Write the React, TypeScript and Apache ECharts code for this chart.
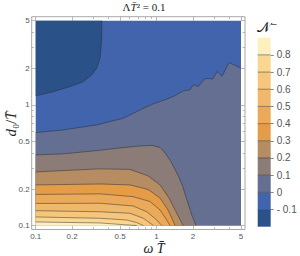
import React, { useEffect, useRef } from "react";
import * as echarts from "echarts";

// ---- axis ranges and ticks ----
const X_MIN = 0.1;
const X_MAX = 5;
const Y_MIN = 0.1;
const Y_MAX = 5;

const MAJOR_TICKS = [0.1, 0.2, 0.5, 1, 2, 5];
const MAJOR_TICK_LABELS = ["0.1", "0.2", "0.5", "1", "2", "5"];
const MINOR_TICKS = [0.3, 0.4, 0.6, 0.7, 0.8, 0.9, 3, 4];

// ---- contour levels / colour bar ----
const LEVELS = [-0.1, 0, 0.1, 0.2, 0.3, 0.4, 0.5, 0.6, 0.7, 0.8];
const LEVEL_LABELS = ["- 0.1", "0", "0.1", "0.2", "0.3", "0.4", "0.5", "0.6", "0.7", "0.8"];
const BAND_EDGES = [-0.2, -0.1, 0, 0.1, 0.2, 0.3, 0.4, 0.5, 0.6, 0.7, 0.8, 0.9];
const BAND_COLORS = [
  "#2b5189", "#4264ad", "#646f91", "#8c7c78", "#b68c62", "#e49c47",
  "#eba95a", "#f0b86b", "#f5c67c", "#f9d791", "#fdf0be",
];

// ---- contour lines, [omega*T, d0/T] ----
const C_M01 = [[0.352, 5], [0.352, 3.8], [0.347, 2.96], [0.341, 2.45], [0.32, 2.02], [0.291, 1.78], [0.248, 1.56], [0.192, 1.42], [0.14, 1.29], [0.1, 1.19]];
const C_000 = [[0.1, 0.59], [0.169, 0.621], [0.32, 0.683], [0.531, 0.777], [0.803, 0.951], [0.941, 1.021], [1.215, 1.117], [1.377, 1.174], [1.667, 1.309], [1.894, 1.335], [2.017, 1.469], [2.218, 1.422], [2.52, 1.657], [2.936, 1.648], [3.17, 1.894], [3.485, 1.728], [3.98, 2.25], [5, 2.02]];
const C_010 = [[0.1, 0.385], [0.169, 0.393], [0.32, 0.418], [0.499, 0.44], [0.73, 0.457], [0.918, 0.462], [1.069, 0.444], [1.176, 0.4], [1.306, 0.343], [1.423, 0.292], [1.536, 0.25], [1.641, 0.213], [1.806, 0.157], [1.968, 0.12], [2.123, 0.1]];
const C_020 = [[0.1, 0.278], [0.175, 0.286], [0.341, 0.295], [0.603, 0.292], [0.85, 0.258], [1.069, 0.217], [1.269, 0.169], [1.45, 0.13], [1.658, 0.1]];
const C_030 = [[0.1, 0.217], [0.341, 0.221], [0.603, 0.217], [0.85, 0.199], [1.069, 0.169], [1.245, 0.1345], [1.423, 0.1]];
const C_040 = [[0.1, 0.181], [0.341, 0.183], [0.639, 0.1735], [0.884, 0.158], [1.069, 0.1345], [1.215, 0.111], [1.294, 0.1]];
const C_050 = [[0.1, 0.1523], [0.341, 0.153], [0.639, 0.1452], [0.83, 0.13], [1.004, 0.111], [1.104, 0.1]];
const C_060 = [[0.1, 0.1327], [0.341, 0.13], [0.603, 0.1263], [0.778, 0.1148], [0.941, 0.1]];
const C_070 = [[0.1, 0.1177], [0.341, 0.1148], [0.567, 0.111], [0.68, 0.106], [0.778, 0.1]];
const C_080 = [[0.1, 0.107], [0.341, 0.105], [0.549, 0.1013], [0.686, 0.1]];

const CONTOURS = [C_M01, C_000, C_010, C_020, C_030, C_040, C_050, C_060, C_070, C_080];
// which plot corner closes each contour's region
const REGION_SIDE = ["tl", "br", "bl", "bl", "bl", "bl", "bl", "bl", "bl", "bl"];

const LINE_COLOR = "rgba(40,40,40,0.6)";
const FRAME_COLOR = "#a8a8a8";
const TICK_FONT = "'Liberation Sans', Arial, sans-serif";
const SERIF = "'Liberation Serif', 'DejaVu Serif', serif";

export default function App() {
  const ref = useRef<HTMLDivElement>(null);

  useEffect(() => {
    if (!ref.current) return;
    const chart = echarts.init(ref.current, null, { renderer: "svg" });
    const lg = (v: number) => Math.log10(v);

    const G = { left: 35.7, top: 20.7, width: 205.3, height: 204.8 };
    const PAD = 4;

    const cornerPts = (side: string) =>
      side === "tl"
        ? [[X_MIN, Y_MAX]]
        : side === "br"
        ? [[X_MAX, Y_MIN], [X_MIN, Y_MIN]]
        : [[X_MIN, Y_MIN]];

    const majorLabel = (v: number) => {
      const i = MAJOR_TICKS.findIndex((t) => Math.abs(lg(t) - v) < 1e-6);
      return i >= 0 ? MAJOR_TICK_LABELS[i] : "";
    };
    const levelLabel = (v: number) => {
      const i = LEVELS.findIndex((t) => Math.abs(t - v) < 1e-6);
      return i >= 0 ? LEVEL_LABELS[i] : "";
    };

    const tickAxis = (
      dim: "x" | "y",
      position: string,
      values: number[],
      length: number,
      withLabels: boolean
    ): any => ({
      type: "value",
      gridIndex: 0,
      position,
      offset: PAD,
      min: dim === "x" ? lg(X_MIN) : lg(Y_MIN),
      max: dim === "x" ? lg(X_MAX) : lg(Y_MAX),
      axisLine: { show: false, onZero: false },
      splitLine: { show: false },
      axisTick: {
        show: true,
        inside: true,
        length,
        customValues: values.map(lg),
        lineStyle: { color: FRAME_COLOR, width: 0.8 },
      },
      axisLabel: withLabels
        ? {
            show: true,
            customValues: values.map(lg),
            formatter: majorLabel,
            margin: dim === "x" ? 3 : 2,
            fontSize: 8,
            color: "#555",
            fontFamily: TICK_FONT,
            showMinLabel: true,
            showMaxLabel: true,
          }
        : { show: false },
    });

    const fillData = [{ value: [X_MIN, Y_MIN, -1] }].concat(
      CONTOURS.map((_, k) => ({ value: [X_MIN, Y_MIN, k] }))
    );
    const lineData = CONTOURS.map((_, k) => ({ value: [X_MIN, Y_MIN, k] }));
    const barData = BAND_COLORS.map((_, i) => ({
      value: [0, BAND_EDGES[i], BAND_EDGES[i + 1], i],
    }));

    const option: any = {
      animation: false,
      grid: [
        { ...G, containLabel: false, outerBoundsMode: "none" },
        { left: 257.7, top: 37.7, width: 13, height: 189, containLabel: false, outerBoundsMode: "none" },
      ],
      xAxis: [
        { type: "log", logBase: 10, gridIndex: 0, min: X_MIN, max: X_MAX, show: false, axisLine: { onZero: false } },
        tickAxis("x", "bottom", MAJOR_TICKS, 4, true),
        tickAxis("x", "bottom", MINOR_TICKS, 2.3, false),
        tickAxis("x", "top", MAJOR_TICKS, 4, false),
        tickAxis("x", "top", MINOR_TICKS, 2.3, false),
        { type: "value", gridIndex: 1, min: 0, max: 1, show: false, axisLine: { onZero: false } },
      ],
      yAxis: [
        { type: "log", logBase: 10, gridIndex: 0, min: Y_MIN, max: Y_MAX, show: false, axisLine: { onZero: false } },
        tickAxis("y", "left", MAJOR_TICKS, 4, true),
        tickAxis("y", "left", MINOR_TICKS, 2.3, false),
        tickAxis("y", "right", MAJOR_TICKS, 4, false),
        tickAxis("y", "right", MINOR_TICKS, 2.3, false),
        {
          type: "value",
          gridIndex: 1,
          position: "right",
          min: BAND_EDGES[0],
          max: BAND_EDGES[BAND_EDGES.length - 1],
          axisLine: { show: false, onZero: false },
          splitLine: { show: false },
          axisTick: {
            show: true,
            inside: false,
            length: 3,
            customValues: LEVELS,
            lineStyle: { color: "#666", width: 0.8 },
          },
          axisLabel: {
            show: true,
            customValues: LEVELS,
            formatter: levelLabel,
            margin: 6,
            fontSize: 10,
            color: "#555",
            fontFamily: TICK_FONT,
            showMinLabel: true,
            showMaxLabel: true,
          },
        },
      ],
      series: [
        {
          type: "custom",
          name: "fills",
          xAxisIndex: 0,
          yAxisIndex: 0,
          dimensions: ["x", "y", "k"],
          encode: { x: 0, y: 1 },
          data: fillData,
          silent: true,
          renderItem: (_p: any, api: any) => {
            const k = api.value(2);
            let pts: number[][];
            let color: string;
            if (k < 0) {
              pts = [[X_MIN, Y_MIN], [X_MAX, Y_MIN], [X_MAX, Y_MAX], [X_MIN, Y_MAX]];
              color = BAND_COLORS[1];
            } else {
              pts = CONTOURS[k].concat(cornerPts(REGION_SIDE[k]));
              color = BAND_COLORS[k === 0 ? 0 : k + 1];
            }
            return {
              type: "polygon",
              z2: k + 2,
              shape: { points: pts.map((p) => api.coord(p)) },
              style: { fill: color },
            };
          },
        },
        {
          type: "custom",
          name: "contours",
          xAxisIndex: 0,
          yAxisIndex: 0,
          dimensions: ["x", "y", "k"],
          encode: { x: 0, y: 1 },
          data: lineData,
          silent: true,
          z: 3,
          renderItem: (_p: any, api: any) => {
            const k = api.value(2);
            return {
              type: "polyline",
              shape: { points: CONTOURS[k].map((p) => api.coord(p)) },
              style: { stroke: LINE_COLOR, lineWidth: 0.8, fill: null },
            };
          },
        },
        {
          type: "custom",
          name: "colorbar",
          xAxisIndex: 5,
          yAxisIndex: 5,
          dimensions: ["x", "lo", "hi", "i"],
          encode: { x: 0, y: [1, 2] },
          data: barData,
          silent: true,
          clip: false,
          renderItem: (_p: any, api: any) => {
            const lo = api.value(1);
            const hi = api.value(2);
            const i = api.value(3);
            const a = api.coord([0, lo]);
            const b = api.coord([1, hi]);
            const children: any[] = [
              {
                type: "rect",
                shape: { x: a[0], y: b[1], width: b[0] - a[0], height: a[1] - b[1] },
                style: { fill: BAND_COLORS[i] },
              },
            ];
            if (i > 0) {
              children.push({
                type: "line",
                z2: 5,
                shape: { x1: a[0], y1: a[1], x2: b[0], y2: a[1] },
                style: { stroke: LINE_COLOR, lineWidth: 0.8 },
              });
            }
            return { type: "group", children };
          },
        },
      ],
      graphic: [
        {
          type: "rect",
          silent: true,
          z: 10,
          shape: {
            x: G.left - PAD,
            y: G.top - PAD,
            width: G.width + 2 * PAD,
            height: G.height + 2 * PAD,
          },
          style: { fill: "none", stroke: FRAME_COLOR, lineWidth: 1 },
        },
        {
          type: "text",
          x: 144,
          y: 6.5,
          style: {
            text: "{r|Λ}{i|T̄}{r|² = 0.1}",
            align: "center",
            verticalAlign: "middle",
            rich: {
              r: { fontFamily: SERIF, fontSize: 11, fill: "#222" },
              i: { fontFamily: SERIF, fontSize: 11, fontStyle: "italic", fill: "#222" },
            },
          },
        },
        {
          type: "text",
          x: 154,
          y: 248,
          style: {
            text: "{i|ω T̄}",
            align: "center",
            verticalAlign: "middle",
            rich: {
              i: { fontFamily: SERIF, fontSize: 14, fontStyle: "italic", fill: "#222" },
            },
          },
        },
        {
          type: "text",
          x: 11,
          y: 124,
          rotation: Math.PI / 2,
          style: {
            text: "{i|d}{r|₀/}{i|T̄}",
            align: "center",
            verticalAlign: "middle",
            rich: {
              i: { fontFamily: SERIF, fontSize: 15, fontStyle: "italic", fill: "#222" },
              r: { fontFamily: SERIF, fontSize: 15, fill: "#222" },
            },
          },
        },
        {
          type: "text",
          x: 257,
          y: 27,
          style: {
            text: "𝒩⁻",
            align: "left",
            verticalAlign: "middle",
            fontFamily: "'DejaVu Serif', 'DejaVu Sans', serif",
            fontSize: 14,
            fill: "#222",
          },
        },
      ],
    };

    chart.setOption(option);
    return () => chart.dispose();
  }, []);

  return (
    <div
      ref={ref}
      style={{ position: "absolute", left: 0, top: 0, width: 300, height: 256 }}
    />
  );
}
